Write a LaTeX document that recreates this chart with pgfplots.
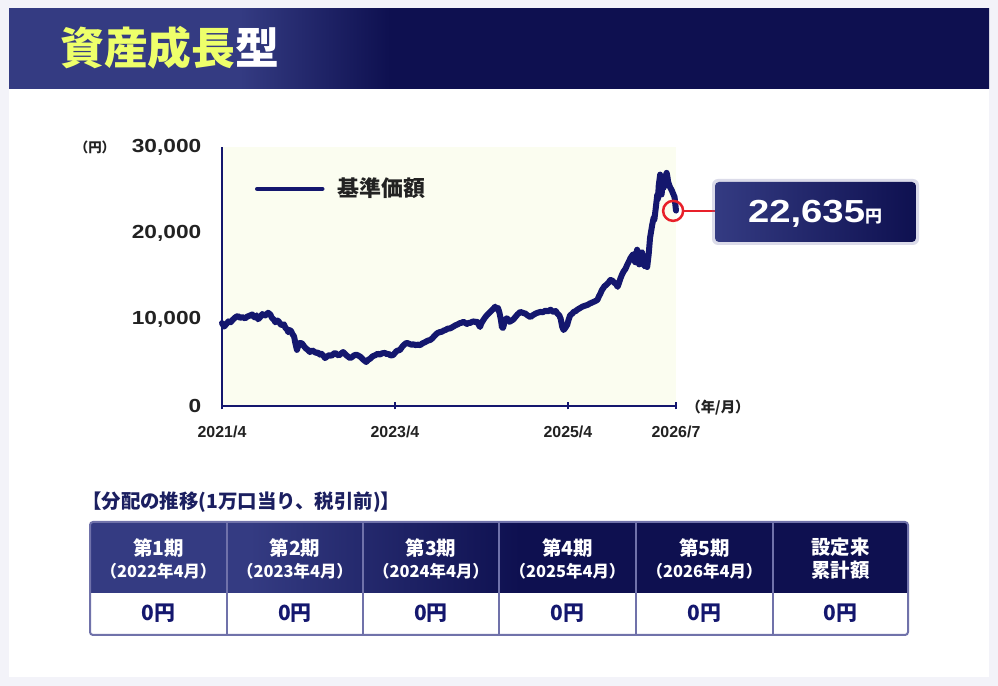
\documentclass[border=0pt]{standalone}
\usepackage{fontspec}
\usepackage{pgfplots}
\pgfplotsset{compat=1.18}
\setmainfont{Liberation Sans}
\newfontfamily\jp{Noto Sans CJK JP}
\newfontfamily\wnum{Liberation Sans}[FakeStretch=1.2]
\definecolor{navy}{HTML}{14176E}
\definecolor{lightnavy}{HTML}{343B82}
\definecolor{darknavy}{HTML}{0E1050}
\definecolor{cream}{HTML}{FBFDF0}
\definecolor{yel}{HTML}{EEFF6A}
\definecolor{redc}{HTML}{E8202A}
\definecolor{tgray}{HTML}{222222}
\definecolor{tborder}{HTML}{7072AA}
\definecolor{outer}{HTML}{F3F3F9}
\definecolor{ttl}{HTML}{1B1F60}
\begin{document}
\begin{tikzpicture}[x=1bp,y=1bp]
\useasboundingbox (0,0) rectangle (998,686);
% background and card
\fill[outer] (0,0) rectangle (998,686);
\fill[white] (9,9) rectangle (989,677);
% banner
\begin{scope}
\clip (9,597) rectangle (989,677);
\fill[lightnavy] (0,590) rectangle (241,686);
\shade[left color=lightnavy, right color=darknavy] (240,590) rectangle (390,686);
\fill[darknavy] (389,590) rectangle (998,686);
\end{scope}
\node[anchor=west, inner sep=0pt, font=\jp\bfseries\fontsize{44}{44}\selectfont] at (60,638) {\textcolor{yel}{資産成長}\textcolor{white}{型}};

% chart
\begin{axis}[
  at={(222bp,280bp)}, anchor=origin,
  width=454bp, height=259bp, scale only axis,
  xmin=0, xmax=63, ymin=0, ymax=30000,
  axis x line*=bottom, axis y line*=left,
  axis line style={navy, line width=2bp},
  axis background/.style={fill=cream},
  xtick={0,24,48,63},
  xticklabels={2021/4,2023/4,2025/4,2026/7},
  ytick={0,10000,20000,30000},
  scaled y ticks=false,
  major tick length=7bp,
  tick align=center,
  xtick style={navy, line width=2bp},
  ytick style={draw=none},
  yticklabel style={/pgf/number format/1000 sep={,}, /pgf/number format/assume math mode=true,
     font=\wnum\bfseries\fontsize{19}{19}\selectfont, text=tgray, anchor=east, inner sep=0pt, xshift=-17bp},
  xticklabel style={font=\bfseries\fontsize{16}{16}\selectfont, text=tgray, anchor=base, inner sep=0pt, yshift=-28bp},
  clip=false,
  legend style={at={(0.0727,0.842)}, anchor=west, draw=none, fill=none, inner sep=0pt, outer sep=0pt,
     nodes={inner sep=0pt}, font=\jp\bfseries\fontsize{22}{22}\selectfont, text=tgray,
     /tikz/every odd column/.style={column sep=13bp}},
  legend image code/.code={\draw[#1, line width=4.5bp] (0bp,-1bp) -- (65bp,-1bp);},
]
\addplot[navy, line width=6bp, line join=round, line cap=round] coordinates {
(0,9600) (0.3,9200) (0.6,9500) (0.9,9800) (1.2,9700) (1.5,10000) (1.9,10300) (2.2,10430) (2.5,10200)
(2.8,10300) (3.2,10150) (3.5,10350) (3.8,10450) (4.2,10600) (4.4,10350) (4.6,10250) (4.8,10500)
(5.0,10050) (5.3,10300) (5.6,10650) (5.9,10450) (6.1,10550) (6.4,10800) (6.7,10600) (6.9,10250)
(7.2,10000) (7.4,9700) (7.7,9900) (7.9,9750) (8.1,9500) (8.3,9350) (8.6,9450) (8.8,9050) (9.0,8900)
(9.2,8550) (9.4,8800) (9.6,8650) (9.8,8300) (10.0,8050) (10.2,7200) (10.4,6500) (10.6,7000) (10.8,7300)
(11.1,7250) (11.4,6900) (11.6,6700) (11.9,6500) (12.2,6250) (12.5,6450) (12.8,6300) (13.0,6150)
(13.3,6200) (13.6,5950) (13.8,6050) (14.1,5800) (14.3,5550) (14.6,5750) (14.9,5900) (15.2,5800)
(15.5,6050) (15.7,6150) (16.0,5950) (16.2,5850) (16.5,6050) (16.8,6250) (17.1,6000) (17.3,5850)
(17.6,5650) (17.8,5550) (18.1,5700) (18.3,5850) (18.6,5950) (18.9,5850) (19.2,5700) (19.4,5550)
(19.7,5300) (20.0,5100) (20.3,5350) (20.6,5500) (20.9,5750) (21.3,5900) (21.6,6050) (21.9,5950)
(22.2,6100) (22.6,6150) (22.9,6000) (23.1,6050) (23.4,5850) (23.75,5900) (24.0,6150) (24.2,6350)
(24.5,6450) (24.7,6500) (25.0,6850) (25.2,7050) (25.5,7250) (25.7,7300) (26.0,7200) (26.3,7100)
(26.6,7150) (26.8,7050) (27.2,7100) (27.5,7050) (27.8,7250) (28.2,7400) (28.5,7550) (28.9,7650)
(29.2,7850) (29.4,8050) (29.7,8300) (29.9,8450) (30.2,8550) (30.5,8600) (30.8,8750) (31.0,8800)
(31.3,8950) (31.7,9000) (32.0,9150) (32.4,9350) (32.7,9450) (33.0,9600) (33.3,9650) (33.5,9750)
(33.8,9600) (34.0,9500) (34.2,9650) (34.4,9600) (34.7,9750) (35.0,9800) (35.2,9700) (35.4,9750)
(35.6,9450) (35.8,9150) (36.0,9600) (36.3,10000) (36.5,10250) (36.8,10550) (37.1,10800) (37.4,11050)
(37.7,11300) (37.9,11500) (38.1,11250) (38.3,11350) (38.5,10800) (38.7,10000) (38.85,9100) (39.0,9050)
(39.2,9700) (39.3,9950) (39.5,10150) (39.7,10050) (39.9,9750) (40.1,9850) (40.4,10000) (40.7,10300)
(41.0,10600) (41.2,10750) (41.4,10900) (41.7,10800) (42.1,10700) (42.4,10500) (42.8,10300) (43.1,10500)
(43.5,10700) (43.8,10800) (44.2,10900) (44.5,10850) (44.9,11050) (45.2,10950) (45.6,11150) (45.8,11000)
(46.0,10900) (46.3,11000) (46.5,10750) (46.8,10500) (47.0,10100) (47.2,9200) (47.4,8800) (47.6,9000)
(47.9,9400) (48.1,10000) (48.3,10500) (48.6,10700) (48.8,10900) (49.1,11000) (49.3,11150) (49.7,11350)
(50.0,11500) (50.3,11600) (50.7,11700) (51.0,11850) (51.4,12000) (51.8,12150) (52.1,12300) (52.3,12700)
(52.5,13000) (52.7,13400) (52.9,13650) (53.1,13900) (53.3,14000) (53.6,14250) (53.9,14600) (54.2,14500)
(54.4,14300) (54.7,14100) (54.9,13800) (55.1,14300) (55.3,14800) (55.5,15200) (55.7,15550) (56.0,15900)
(56.2,16300) (56.5,16800) (56.7,17150) (56.9,17400) (57.1,17600) (57.3,16700) (57.4,16600) (57.5,17700)
(57.6,18100) (57.75,17000) (57.9,16400) (58.1,17700) (58.3,17800) (58.45,16800) (58.6,16200) (58.8,16500)
(59.0,16100) (59.2,17500) (59.4,19500) (59.6,20500) (59.7,21000) (59.9,21800) (60.0,21600) (60.2,23000)
(60.4,24450) (60.5,24000) (60.6,25500) (60.8,26800) (60.9,26200) (61.0,24500) (61.15,25800) (61.3,25300)
(61.5,26500) (61.7,27000) (61.8,26600) (61.9,26000) (62.1,25500) (62.2,25300) (62.4,25000) (62.5,24800)
(62.7,24400) (62.8,24200) (62.9,23400) (63.0,22635)
};
\addlegendentry{基準価額}
\addplot[forget plot, only marks, mark=o, mark size=10bp, mark options={draw=redc, line width=2.5bp}] coordinates {(62.6,22600)};
\end{axis}

% axis unit labels
\node[font=\jp\bfseries\fontsize{13.5}{13.5}\selectfont, text=tgray] at (95,539) {（円）};
\node[font=\jp\bfseries\fontsize{14.5}{14.5}\selectfont, text=tgray] at (718,278) {（年/月）};

% connector and value box
\draw[redc, line width=2.5bp] (683,475) -- (716,475);
\fill[rounded corners=6bp, color=tborder, opacity=0.25] (712,441) rectangle (919,507);
\shade[rounded corners=4bp, left color=lightnavy, middle color=darknavy, right color=darknavy] (715,444) rectangle (916,504);
\node[text=white, inner sep=0pt, anchor=base] at (815,463) {\wnum\bfseries\fontsize{32}{32}\selectfont 22,635\jp\bfseries\fontsize{17}{17}\selectfont 円};

% table title
\node[anchor=west, inner sep=0pt, text=ttl, font=\jp\bfseries\fontsize{19.5}{19.5}\selectfont] at (82,184) {【分配の推移(1万口当り、税引前)】};

% table
\begin{scope}
\clip[rounded corners=3bp] (90,51) rectangle (908,164);
\fill[white] (90,51) rectangle (908,93);
\fill[lightnavy] (90,93) rectangle (250,164);
\shade[left color=lightnavy, right color=darknavy] (249.5,93) rectangle (520,164);
\fill[darknavy] (519.5,93) rectangle (908,164);
\end{scope}
\foreach \xx in {227,363,499,636,773} { \draw[tborder, line width=1.2bp] (\xx,51) -- (\xx,164); }
\draw[tborder, line width=2bp, rounded corners=3bp] (90,51) rectangle (908,164);

\foreach \cx/\a/\b in {158.5/第1期/（2022年4月）, 295/第2期/（2023年4月）, 431/第3期/（2024年4月）, 567.5/第4期/（2025年4月）, 704.5/第5期/（2026年4月）} {
  \node[text=white, font=\jp\bfseries\fontsize{19.5}{19.5}\selectfont] at (\cx,138) {\a};
  \node[text=white, font=\jp\bfseries\fontsize{16.5}{16.5}\selectfont] at (\cx,115) {\b};
}
\node[text=white, font=\jp\bfseries\fontsize{19.5}{19.5}\selectfont] at (840.5,139) {設定来};
\node[text=white, font=\jp\bfseries\fontsize{19.5}{19.5}\selectfont] at (840.5,116) {累計額};
\foreach \cx in {158.5,295,431,567.5,704.5,840.5} {
  \node[text=navy, font=\jp\bfseries\fontsize{21}{21}\selectfont] at (\cx,73) {0円};
}
\end{tikzpicture}
\end{document}
